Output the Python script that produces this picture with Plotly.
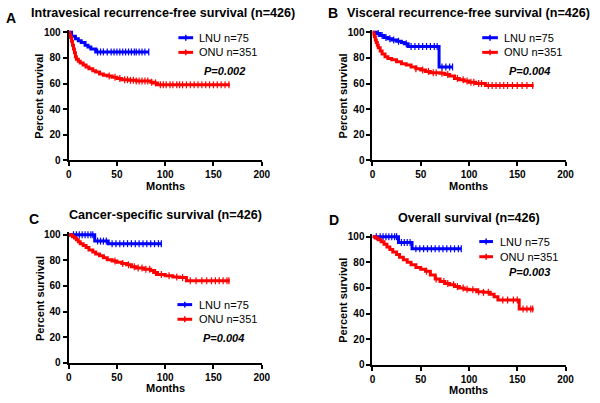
import numpy as np
import plotly.graph_objects as go

W, H = 600, 403

# ---------------- data ----------------
# Panel A: Intravesical recurrence-free survival
a_lnu_t = [0, 3, 7, 10, 13, 17, 20, 23, 28, 83]
a_lnu_s = [100, 97, 95, 93.5, 92, 90, 88.5, 87, 84.7, 84.7]
a_lnu_c = [30, 33, 36, 40, 44, 47, 50, 53, 56, 59, 62, 65, 68, 70, 73, 76, 79, 83]
a_onu_t = [0, 1, 2, 3, 4, 5, 6, 7, 8, 10, 12, 15, 18, 21, 25, 28, 32, 36, 40, 45, 50, 55, 62, 70, 80, 85, 88, 92, 167]
a_onu_s = [100, 98, 96, 93, 90, 87, 84, 81, 79, 77.5, 76, 74.5, 73, 71.5, 70, 69, 67.5, 66.5, 66, 65, 64, 63, 62.5, 62, 62, 61, 60.5, 59, 59]
a_onu_c = [42, 48, 53, 58, 61, 64, 67, 70, 73, 76, 79, 82, 86, 90, 95, 98, 101, 105, 108, 112, 115, 118, 122, 126, 130, 134,
           138, 142, 146, 150, 154, 158, 162, 166]

# Panel B: Visceral recurrence-free survival
b_lnu_t = [0, 4, 8, 12, 16, 20, 25, 30, 33, 37, 69, 83]
b_lnu_s = [100, 99, 97.5, 96, 95, 94, 93, 92, 91, 89, 73, 73]
b_lnu_c = [6, 10, 14, 18, 22, 27, 35, 40, 44, 48, 52, 56, 60, 64, 67, 72, 76, 80, 83]
b_onu_t = [0, 1, 2, 3, 4, 5, 6, 8, 10, 13, 16, 20, 25, 30, 35, 40, 45, 50, 55, 60, 70, 75, 80, 85, 90, 95, 100, 107, 117, 167]
b_onu_s = [100, 98.5, 96.5, 94, 92, 90, 88, 85.5, 83, 81, 79.5, 78.5, 77, 75.5, 74.5, 73, 71.5, 70.5, 69.5, 68.5, 68, 67, 66,
           64, 63, 62, 61, 60, 58.5, 58.5]
b_onu_c = [45, 52, 58, 63, 66, 72, 78, 88, 94, 98, 102, 105, 110, 113, 120, 124, 128, 132, 136, 140, 145, 150, 155, 160, 166]

# Panel C: Cancer-specific survival
c_lnu_t = [0, 27, 41, 96]
c_lnu_s = [100, 95, 93, 93]
c_lnu_c = [5, 8, 11, 14, 17, 20, 23, 25, 30, 33, 36, 39, 45, 49, 53, 57, 61, 65, 69, 73, 77, 81, 85, 89, 93, 96]
c_onu_t = [0, 2, 4, 6, 8, 10, 12, 15, 18, 21, 25, 28, 32, 36, 40, 45, 50, 55, 60, 65, 70, 78, 85, 88, 92, 100, 108, 115, 122, 167]
c_onu_s = [100, 99.5, 98.5, 97.5, 96, 94.5, 93, 91.5, 90, 88, 86.5, 85, 83.5, 82, 80.5, 79.5, 78.5, 77.5, 76.5, 75, 74, 73,
           72, 70.5, 69, 68, 67, 66.5, 64, 64]
c_onu_c = [48, 56, 62, 68, 72, 76, 80, 84, 90, 96, 104, 112, 118, 126, 132, 138, 143, 148, 152, 156, 160, 164, 166]

# Panel D: Overall survival
d_lnu_t = [0, 27, 41, 92]
d_lnu_s = [100, 95.5, 90.5, 90.5]
d_lnu_c = [4, 8, 11, 14, 17, 20, 23, 25, 30, 33, 36, 39, 45, 49, 53, 57, 61, 65, 69, 73, 77, 81, 85, 89, 92]
d_onu_t = [0, 3, 6, 9, 12, 15, 18, 21, 25, 28, 32, 36, 40, 45, 50, 55, 60, 65, 70, 75, 80, 85, 90, 95, 100, 108, 115, 122, 126,
           130, 152, 167]
d_onu_s = [100, 99, 97.5, 96, 94, 92, 90, 88, 86, 84, 82, 80, 78, 76, 74.5, 73, 70, 67, 65, 63.5, 62.5, 61, 60, 59, 58.5, 57,
           56.5, 55, 53, 50.5, 43.5, 43.5]
d_onu_c = [56, 66, 74, 78, 84, 88, 94, 98, 104, 110, 115, 120, 135, 140, 146, 150, 156, 160, 164, 166]

titles = ["Intravesical recurrence-free survival (n=426)", "Visceral recurrence-free survival (n=426)",
          "Cancer-specific survival (n=426)", "Overall survival (n=426)"]
letters = ["A", "B", "C", "D"]
pvalues = ["P=0.002", "P=0.004", "P=0.004", "P=0.003"]
lnu_name = "LNU n=75"
onu_name = "ONU n=351"
x_ticks = [0, 50, 100, 150, 200]
y_ticks = [0, 20, 40, 60, 80, 100]
x_label = "Months"
y_label = "Percent survival"

panels = [
    (a_lnu_t, a_lnu_s, a_lnu_c, a_onu_t, a_onu_s, a_onu_c),
    (b_lnu_t, b_lnu_s, b_lnu_c, b_onu_t, b_onu_s, b_onu_c),
    (c_lnu_t, c_lnu_s, c_lnu_c, c_onu_t, c_onu_s, c_onu_c),
    (d_lnu_t, d_lnu_s, d_lnu_c, d_onu_t, d_onu_s, d_onu_c),
]

# ---------------- layout geometry (pixels) ----------------
# (left, right, y of 100, y of 0)
geom = [(67, 264, 30, 161), (377, 574, 30, 161), (67, 264, 237, 368), (377, 574, 239, 370)]
YMAX = 102
BLUE = "#0000FF"
RED = "#FF0000"
FONT = "Arial, Liberation Sans, sans-serif"


def px(x):
    return x / W


def py(y):
    return 1 - y / H


def step_at(ts, ss, tc):
    ts = np.asarray(ts, float)
    ss = np.asarray(ss, float)
    idx = np.searchsorted(ts, np.asarray(tc, float), side="right") - 1
    return ss[np.clip(idx, 0, len(ss) - 1)]


fig = go.Figure()
layout = dict(width=W, height=H, margin=dict(l=0, r=0, t=0, b=0), paper_bgcolor="white",
              plot_bgcolor="white", showlegend=False, font=dict(family=FONT, color="black"))
annotations = []
shapes = []

# legend / p-value positions: (line x0, line x1, text x, lnu y, onu y, p x-center, p y)
leg = [(179, 194, 198, 35.5, 50.5, 226, 69.5),
       (489, 505, 509, 35.5, 50.5, 537, 70),
       (178, 193, 198, 308.5, 323.5, 225, 343),
       (486, 500, 505, 244, 259.5, 537, 275.5)]
title_pos = [(163.5, 10.5), (474.5, 10.5), (165.5, 217), (475.5, 220)]
letter_pos = [(8, 15), (337, 10.5), (31.5, 221), (338, 222)]

for i, (lt, ls, lc, ot, os_, oc) in enumerate(panels):
    n = "" if i == 0 else str(i + 1)
    xa, ya = "x" + n, "y" + n
    l, r, ytop, ybot = geom[i]
    ytop_dom = ybot - (ybot - ytop) * YMAX / 100.0
    axis_common = dict(showline=True, linewidth=2, linecolor="black", ticks="outside", ticklen=4, tickwidth=2,
                       tickcolor="black", showgrid=False, zeroline=False,
                       tickfont=dict(family=FONT, size=10, color="black", weight="bold"))
    layout["xaxis" + n] = dict(domain=[px(l), px(r)], range=[0, 200], tickvals=x_ticks, anchor=ya, **axis_common)
    layout["yaxis" + n] = dict(domain=[py(ybot), py(ytop_dom)], range=[0, YMAX], tickvals=y_ticks, anchor=xa,
                               **axis_common)

    for t, s, c, col, name in [(lt, ls, lc, BLUE, lnu_name), (ot, os_, oc, RED, onu_name)]:
        fig.add_trace(go.Scatter(x=t, y=s, mode="lines", line=dict(color=col, width=3, shape="hv"),
                                 xaxis=xa, yaxis=ya, name=name, hoverinfo="skip"))
        fig.add_trace(go.Scatter(x=c, y=step_at(t, s, c), mode="markers", xaxis=xa, yaxis=ya, name=name,
                                 marker=dict(symbol="line-ns", size=5, line=dict(color=col, width=1.2)),
                                 hoverinfo="skip", cliponaxis=False))

    # titles & letters
    tx, ty = title_pos[i]
    annotations.append(dict(x=px(tx), y=py(ty), xref="paper", yref="paper", text=titles[i], showarrow=False,
                            xanchor="center", yanchor="middle", font=dict(size=12.6, weight="bold", family=FONT)))
    lx, lyy = letter_pos[i]
    annotations.append(dict(x=px(lx), y=py(lyy), xref="paper", yref="paper", text=letters[i], showarrow=False,
                            xanchor="center", yanchor="middle", font=dict(size=14, weight="bold", family=FONT)))
    # axis titles
    annotations.append(dict(x=px((l + r) / 2), y=py(ybot + 26), xref="paper", yref="paper", text=x_label,
                            showarrow=False, xanchor="center", yanchor="middle",
                            font=dict(size=11, weight="bold", family=FONT)))
    annotations.append(dict(x=px(l - 30), y=py((ytop + ybot) / 2), xref="paper", yref="paper", text=y_label,
                            showarrow=False, xanchor="center", yanchor="middle", textangle=-90,
                            font=dict(size=11, weight="bold", family=FONT)))
    # legend
    x0, x1, xt, yl, yo, pxc, pyy = leg[i]
    for yy, col, name in [(yl, BLUE, lnu_name), (yo, RED, onu_name)]:
        shapes.append(dict(type="line", xref="paper", yref="paper", x0=px(x0), x1=px(x1), y0=py(yy), y1=py(yy),
                           line=dict(color=col, width=3)))
        xm = (x0 + x1) / 2
        shapes.append(dict(type="line", xref="paper", yref="paper", x0=px(xm), x1=px(xm), y0=py(yy - 3),
                           y1=py(yy + 3), line=dict(color=col, width=1.5)))
        annotations.append(dict(x=px(xt), y=py(yy), xref="paper", yref="paper", text=name, showarrow=False,
                                xanchor="left", yanchor="middle", font=dict(size=11, family=FONT)))
    annotations.append(dict(x=px(pxc), y=py(pyy), xref="paper", yref="paper", text="<b><i>" + pvalues[i] + "</i></b>",
                            showarrow=False, xanchor="center", yanchor="middle", font=dict(size=11, family=FONT)))

layout["annotations"] = annotations
layout["shapes"] = shapes
fig.update_layout(**layout)
fig.write_html("out.html", config={"displayModeBar": False, "staticPlot": True},
               post_script="document.body.style.margin='0';document.body.style.overflow='hidden';")
